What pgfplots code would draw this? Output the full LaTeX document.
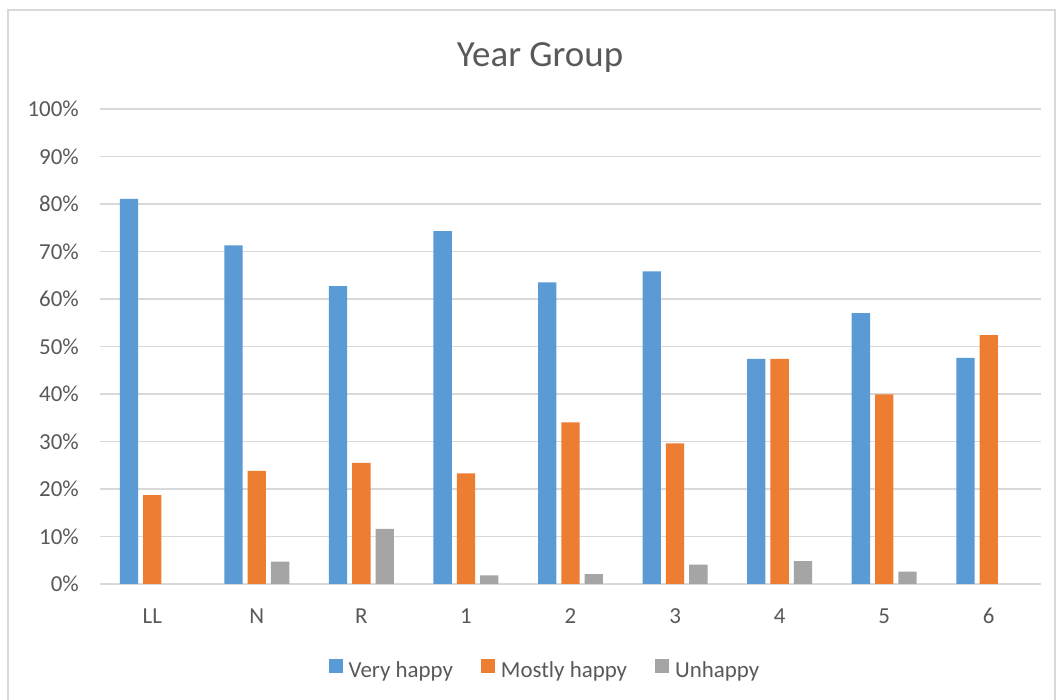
\documentclass[border=0pt]{standalone}
\usepackage{pgfplots}
\pgfplotsset{compat=1.18}
\usepackage{fontspec}
\setmainfont{Carlito}
\definecolor{cblue}{HTML}{5B9BD5}
\definecolor{corange}{HTML}{ED7D31}
\definecolor{cgray}{HTML}{A5A5A5}
\definecolor{gridgray}{HTML}{D9D9D9}
\definecolor{textgray}{HTML}{595959}
\begin{document}
\begin{tikzpicture}
\useasboundingbox (0,0) rectangle (1063bp,700bp);
\fill[white] (0,0) rectangle (1063bp,700bp);
\draw[gridgray, line width=1.3bp] (8bp,0bp) -- (8bp,690bp) -- (1055bp,690bp) -- (1055bp,0bp);
\node[text=textgray, anchor=base, font=\fontsize{37}{44}\selectfont] at (540bp,633bp) {Year Group};
\begin{axis}[
  at={(100bp,116bp)}, anchor=south west,
  scale only axis, width=941bp, height=475bp,
  xmin=-0.5, xmax=8.5, ymin=0, ymax=100,
  ybar=5bp, bar width=18.3bp,
  xtick={0,...,8},
  xticklabels={LL,N,R,1,2,3,4,5,6},
  ytick={0,10,...,100},
  yticklabels={0\%,10\%,20\%,30\%,40\%,50\%,60\%,70\%,80\%,90\%,100\%},
  ymajorgrids, major grid style={draw=gridgray, line width=1.3bp},
  axis x line*=bottom, axis y line*=left,
  y axis line style={draw=none},
  x axis line style={draw=gridgray, line width=1.3bp, -},
  major tick length=0pt,
  ticklabel style={text=textgray, font=\fontsize{23}{28}\selectfont},
  yticklabel style={inner sep=0pt, anchor=east, xshift=-21bp},
  xticklabel style={inner sep=0pt, anchor=north, text height=15bp, text depth=0pt, yshift=-24bp},
  legend style={at={(0.4718,-0.179)}, anchor=center, draw=none, fill=none,
    legend columns=-1, inner sep=0pt,
    nodes={inner sep=0pt, text=textgray, font=\fontsize{23}{28}\selectfont},
    /tikz/every odd column/.append style={column sep=6bp},
    /tikz/every even column/.append style={column sep=28bp}},
  legend image code/.code={\fill[#1,draw=none] (0bp,-2bp) rectangle (14bp,12bp);},
]
\addplot[fill=cblue, draw=none] coordinates {(0,81.1) (1,71.3) (2,62.7) (3,74.3) (4,63.5) (5,65.8) (6,47.4) (7,57.0) (8,47.6)};
\addplot[fill=corange, draw=none] coordinates {(0,18.7) (1,23.8) (2,25.5) (3,23.3) (4,34.0) (5,29.6) (6,47.4) (7,39.9) (8,52.4)};
\addplot[fill=cgray, draw=none] coordinates {(0,0) (1,4.7) (2,11.6) (3,1.8) (4,2.1) (5,4.1) (6,4.8) (7,2.6) (8,0)};
\legend{Very happy, Mostly happy, Unhappy}
\end{axis}
\end{tikzpicture}
\end{document}
